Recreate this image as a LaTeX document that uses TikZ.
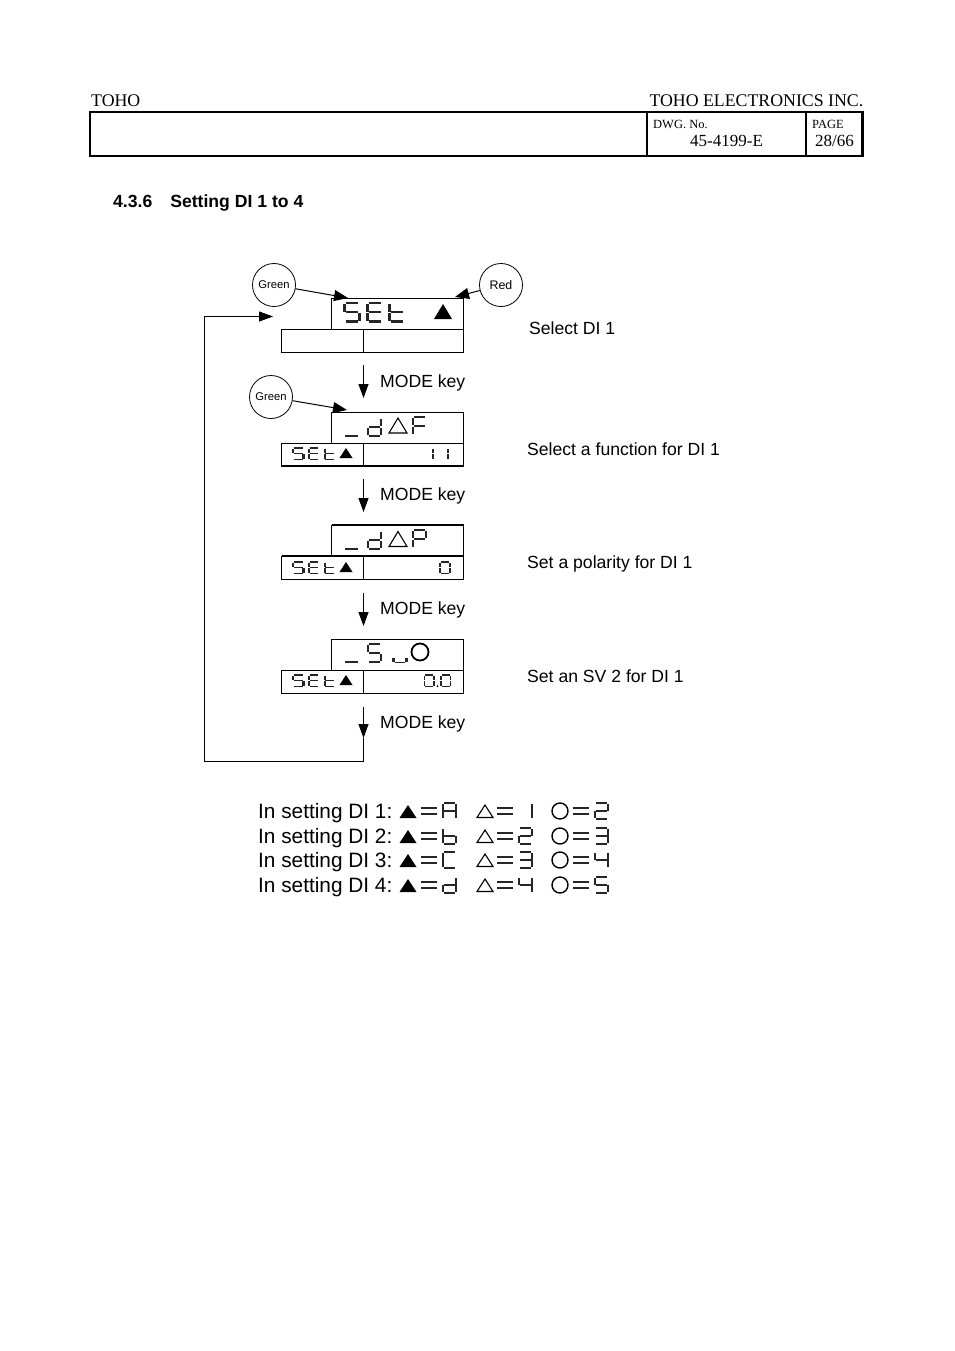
\documentclass[tikz,border=0pt]{standalone}
\usepackage{fontspec}
\setmainfont{Liberation Sans}
\newfontfamily\hdserif{Liberation Serif}
\usetikzlibrary{arrows.meta}
\newcommand\sgmta{(.08,-.055) rectangle (.92,.055)}
\newcommand\sgmtb{(.9,.05) rectangle (1.1,.47)}
\newcommand\sgmtc{(.9,.53) rectangle (1.1,.95)}
\newcommand\sgmtd{(.08,.945) rectangle (.92,1.055)}
\newcommand\sgmte{(-.1,.53) rectangle (.1,.95)}
\newcommand\sgmtf{(-.1,.05) rectangle (.1,.47)}
\newcommand\sgmtg{(.08,.445) rectangle (.92,.555)}
\newcommand\lcdchar[6]{%
  \begin{scope}[shift={(#2,#3)},x=#4pt,y=-#5pt]
    \foreach \s in {#6}{\fill[#1] \csname sgmt\s\endcsname;}
  \end{scope}}
\newcommand\tribig[3]{\path[#1] (#2,#3) -- ++(-9,15) -- ++(18,0) -- cycle;}
\newcommand\trismall[2]{\fill (#1,#2) -- ++(-6.5,10) -- ++(13,0) -- cycle;}
\newcommand\eqsign[2]{\draw[eqline] (#1,#2) -- ++(16,0) (#1,#2+6) -- ++(16,0);}
\newcommand\smallset[1]{%
  \lcdchar{segsmall}{293}{#1}{10.5}{11.5}{a,f,g,c,d}%
  \lcdchar{segsmall}{309}{#1}{10}{11.5}{a,f,g,e,d}%
  \lcdchar{segsmall}{324.5}{#1}{10}{11.5}{f,g,e,d}%
  \trismall{346}{#1}}
\tikzset{
  segbig/.style={black!85},
  segsmall/.style={black!85},
  segrow/.style={black!85},
  eqline/.style={line width=1.3pt,black!85},
  lcdbox/.style={draw=black,line width=1pt,anchor=north west,inner sep=0pt,outer sep=0pt},
  lamp/.style={circle,draw=black,line width=.8pt,minimum size=43pt,inner sep=0pt},
  flow/.style={line width=1pt,-{Triangle[length=14pt,width=10pt]}},
  lead/.style={line width=1pt,-{Triangle[length=14pt,width=11pt]}},
  lbl/.style={anchor=base west,inner sep=0pt,font=\fontsize{17.6}{20}\selectfont},
  rowlbl/.style={anchor=base west,inner sep=0pt,font=\fontsize{20.8}{24}\selectfont},
  hd/.style={anchor=base west,inner sep=0pt,font=\hdserif\fontsize{17.8}{20}\selectfont},
  hdsm/.style={anchor=base west,inner sep=0pt,font=\hdserif\fontsize{12.5}{14}\selectfont},
  hdnum/.style={anchor=base west,inner sep=0pt,font=\hdserif\fontsize{17}{20}\selectfont},
}
\begin{document}
\begin{tikzpicture}[x=1pt,y=-1pt]
\useasboundingbox[fill=white] (0,0) rectangle (954,1351);
% header
\node[hd] (toho) at (91,107) {TOHO};
\node[hd,anchor=base east] (company) at (863.5,107) {TOHO ELECTRONICS INC.};
\node[draw=black,line width=2.8pt,anchor=north west,minimum width=772.5pt,minimum height=44pt,inner sep=0pt,outer sep=0pt] (frame) at (90,112) {};
\node[draw=black,line width=2pt,anchor=north west,minimum width=159pt,minimum height=44pt,inner sep=0pt,outer sep=0pt] (cell) at (647,112) {};
\node[hdsm] (dwg) at (653,129) {DWG. No.};
\node[hdnum] (dwgno) at (690,146.5) {45-4199-E};
\node[hdsm] (page) at (812,129) {PAGE};
\node[hdnum] (pageno) at (815,147) {28/66};
% heading
\node[lbl,font=\bfseries\fontsize{17.6}{20}\selectfont] (heading) at (113,207.3) {4.3.6\hspace{18pt}Setting DI 1 to 4};
% displays
\foreach \n/\y in {1/298,2/412,3/525,4/639}{
  \node[lcdbox,minimum width=132pt,minimum height=31pt] (top\n) at (331.5,\y) {};
  \node[lcdbox,minimum width=82pt,minimum height=23pt] (botl\n) at (281.5,\y+31) {};
  \node[lcdbox,minimum width=100pt,minimum height=23pt] (botr\n) at (363.5,\y+31) {};
}
\draw[line width=1.6pt] (botl2.south west) -- (botr2.south east);
\draw[line width=2pt] (top3.north west) -- (top3.north east);
\draw[line width=1.6pt] (botl3.north west) -- (botr3.north east);
% display 1
\lcdchar{segbig}{344.5}{303}{15}{18.5}{a,f,g,c,d}
\lcdchar{segbig}{367.5}{303}{15}{18.5}{a,f,g,e,d}
\lcdchar{segbig}{389.5}{303}{15}{18.5}{f,g,e,d}
\tribig{fill=black}{443}{304}
% display 2
\fill[segbig] (345,434.5) rectangle (358,436.5);
\lcdchar{segbig}{368}{418}{13}{18}{b,c,g,e,d}
\tribig{draw=black,line width=1.1pt,fill=none}{398}{418}
\lcdchar{segbig}{413}{417}{13}{18}{a,f,g,e}
\smallset{448}
\lcdchar{segsmall}{422}{448}{11}{11.5}{b,c}
\lcdchar{segsmall}{437}{448}{11}{11.5}{b,c}
% display 3
\fill[segbig] (345,547.5) rectangle (358,549.5);
\lcdchar{segbig}{368}{531}{13}{18}{b,c,g,e,d}
\tribig{draw=black,line width=1.1pt,fill=none}{398}{531.5}
\lcdchar{segbig}{413}{530}{13}{18}{a,b,f,g,e}
\smallset{562}
\lcdchar{segsmall}{440}{562}{10}{11.5}{a,b,c,d,e,f}
% display 4
\fill[segbig] (345,661) rectangle (358,663);
\lcdchar{segbig}{368}{644}{13}{18}{a,f,g,c,d}
\lcdchar{segbig}{393.5}{654}{13}{8}{e,d,c}
\draw[line width=1.8pt] (420,652) circle (8.5);
\smallset{675}
\lcdchar{segsmall}{424.5}{675}{9.5}{11.5}{a,b,c,d,e,f}
\lcdchar{segsmall}{441}{675}{9.5}{11.5}{a,b,c,d,e,f}
\fill (437.5,686) circle (1);
% lamps
\node[lamp,font=\fontsize{11.2}{13}\selectfont] (green1) at (274,285) {Green};
\node[lamp,font=\fontsize{12.4}{14}\selectfont] (red) at (501,285) {Red};
\node[lamp,font=\fontsize{11.2}{13}\selectfont] (green2) at (271,397) {Green};
\coordinate (g1tip) at (348,298);
\coordinate (rtip) at (455,297);
\coordinate (g2tip) at (347,410);
\draw[lead] (green1) -- (g1tip);
\draw[lead] (red) -- (rtip);
\draw[lead] (green2) -- (g2tip);
% mode key flow
\draw[flow] (botl1.south east) ++(0,13) coordinate (s1) -- ++(0,33) coordinate (e1);
\draw[flow] (botl2.south east) ++(0,13) coordinate (s2) -- ++(0,33) coordinate (e2);
\draw[flow] (botl3.south east) ++(0,14) coordinate (s3) -- ++(0,33) coordinate (e3);
\coordinate (s4) at (363.5,707);
\coordinate (m4) at (363.5,738);
\coordinate (c1) at (363.5,761);
\coordinate (c2) at (204.5,761);
\coordinate (c3) at (204.5,316.5);
\coordinate (loopend) at (273,316.5);
\draw[flow] (s4) -- (m4);
\draw[flow] (m4) -- (c1) -- (c2) -- (c3) -- (loopend);
\node[lbl] (k1) at (380,387.5) {MODE key};
\node[lbl] (k2) at (380,500) {MODE key};
\node[lbl] (k3) at (380,614) {MODE key};
\node[lbl] (k4) at (380,728) {MODE key};
\node[lbl] (t1) at (529,334) {Select DI 1};
\node[lbl] (t2) at (527,455) {Select a function for DI 1};
\node[lbl] (t3) at (527,568) {Set a polarity for DI 1};
\node[lbl] (t4) at (527,682) {Set an SV 2 for DI 1};
% legend
\foreach \r/\y/\d in {1/818/1,2/843/2,3/867/3,4/892/4}{
  \node[rowlbl] (row\r) at (258,\y) {In setting DI \d:};
  \fill (408,\y-13) -- ++(-8.5,13) -- ++(17,0) -- cycle;
  \draw[line width=1.1pt] (485,\y-13) -- ++(-8,12.5) -- ++(16,0) -- cycle;
  \draw[line width=1.4pt] (560,\y-7) circle (8);
  \eqsign{421}{\y-10}
  \eqsign{497}{\y-10}
  \eqsign{573}{\y-10}
}
% legend characters
\lcdchar{segrow}{443}{803}{13}{16}{a,b,c,e,f,g}
\lcdchar{segrow}{443}{828}{13}{16}{f,e,d,c,g}
\lcdchar{segrow}{443}{852}{13}{16}{a,f,e,d}
\lcdchar{segrow}{443}{877}{13}{16}{b,c,g,e,d}
\lcdchar{segrow}{519}{803}{13}{16}{b,c}
\lcdchar{segrow}{519}{828}{13}{16}{a,b,g,e,d}
\lcdchar{segrow}{519}{852}{13}{16}{a,b,g,c,d}
\lcdchar{segrow}{519}{877}{13}{16}{f,g,b,c}
\lcdchar{segrow}{595}{803}{13}{16}{a,b,g,e,d}
\lcdchar{segrow}{595}{828}{13}{16}{a,b,g,c,d}
\lcdchar{segrow}{595}{852}{13}{16}{f,g,b,c}
\lcdchar{segrow}{595}{877}{13}{16}{a,f,g,c,d}
\end{tikzpicture}
\end{document}
